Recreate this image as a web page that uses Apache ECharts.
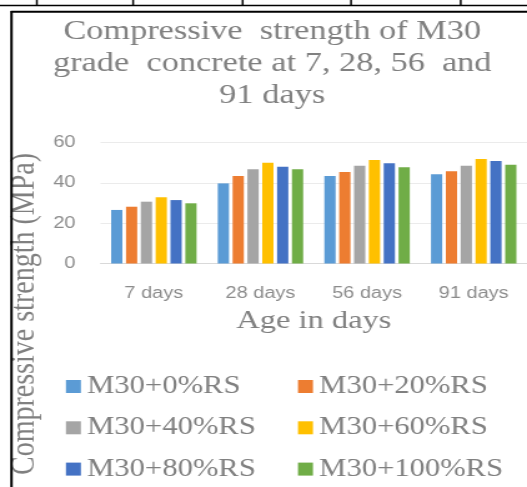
<!DOCTYPE html>
<html>
<head>
<meta charset="utf-8">
<script src="https://cdn.jsdelivr.net/npm/echarts@6/dist/echarts.min.js"></script>
<style>
  html, body { margin: 0; padding: 0; background: #fff; overflow: hidden; }
  /* the source picture is stretched sideways, so draw narrow and stretch */
  #chart { width: 422px; height: 487px; transform: scaleX(1.2488); transform-origin: 0 0; }
</style>
</head>
<body>
<div id="chart"></div>
<script>
  const ages = ['7 days', '28 days', '56 days', '91 days'];
  const mixes = ['M30+0%RS', 'M30+20%RS', 'M30+40%RS', 'M30+60%RS', 'M30+80%RS', 'M30+100%RS'];
  const rs0 = [26.6, 39.8, 43.5, 44.3];
  const rs20 = [28.2, 43.5, 45.5, 45.8];
  const rs40 = [30.7, 46.8, 48.6, 48.6];
  const rs60 = [32.9, 50.1, 51.4, 51.9];
  const rs80 = [31.5, 48.1, 49.8, 50.9];
  const rs100 = [29.9, 46.8, 47.8, 49.1];
  const yTicks = [0, 20, 40, 60];
  const titleLines = ['Compressive  strength of M30', 'grade  concrete at 7, 28, 56  and', '91 days'];

  const colors = ['#5b9bd5', '#ed7d31', '#a5a5a5', '#ffc000', '#4472c4', '#70ad47'];
  const values = [rs0, rs20, rs40, rs60, rs80, rs100];
  const grey = '#808080';
  const serif = '"Liberation Serif", "DejaVu Serif", serif';

  const chart = echarts.init(document.getElementById('chart'));

  // title, rotated axis name and the page frame
  const graphics = titleLines.map((t, i) => ({
    type: 'text',
    x: 218,
    y: 32 + i * 31.7,
    style: {
      text: t, fill: grey, font: '27.5px ' + serif,
      align: 'center', verticalAlign: 'middle',
      textAlign: 'center', textVerticalAlign: 'middle'
    }
  }));
  graphics.push({
    type: 'text',
    x: 20,
    y: 314,
    rotation: Math.PI / 2,
    style: {
      text: 'Compressive strength (MPa)', fill: grey, font: '28px ' + serif,
      align: 'center', verticalAlign: 'middle',
      textAlign: 'center', textVerticalAlign: 'middle'
    }
  });
  // table row cut off at the top
  graphics.push({ type: 'line', shape: { x1: 0, y1: 5.5, x2: 422, y2: 5.5 }, style: { stroke: '#000', lineWidth: 1.5 } });
  [29.5, 106.6, 194.3, 281.1, 368.9].forEach(x => {
    graphics.push({ type: 'line', shape: { x1: x, y1: 0, x2: x, y2: 5.5 }, style: { stroke: '#000', lineWidth: 1.5 } });
  });
  // frame
  graphics.push({ type: 'line', shape: { x1: 8.6, y1: 11.8, x2: 422, y2: 11.8 }, style: { stroke: '#000', lineWidth: 2 } });
  graphics.push({ type: 'line', shape: { x1: 9.2, y1: 11, x2: 9.2, y2: 487 }, style: { stroke: '#000', lineWidth: 2 } });

  const legendBase = {
    orient: 'vertical',
    top: 372.5,
    height: 140,
    padding: 0,
    icon: 'rect',
    itemWidth: 12,
    itemHeight: 13,
    itemGap: 13.3,
    textStyle: { color: grey, fontFamily: serif, fontSize: 24.5, lineHeight: 28 }
  };

  chart.setOption({
    animation: false,
    graphic: graphics,
    legend: [
      Object.assign({}, legendBase, { left: 52.8, data: [mixes[0], mixes[2], mixes[4]] }),
      Object.assign({}, legendBase, { left: 238.6, data: [mixes[1], mixes[3], mixes[5]] })
    ],
    grid: { left: 80.5, top: 142.7, width: 354, height: 120.8 },
    xAxis: {
      type: 'category',
      data: ages,
      name: 'Age in days',
      nameLocation: 'middle',
      nameGap: 45,
      nameTextStyle: { color: grey, fontFamily: serif, fontSize: 26 },
      axisLine: { lineStyle: { color: '#d9d9d9', width: 1 } },
      axisTick: { show: false },
      axisLabel: { color: '#8c8c8c', fontFamily: '"Liberation Sans", sans-serif', fontSize: 16, margin: 22 }
    },
    yAxis: {
      type: 'value',
      min: yTicks[0],
      max: yTicks[yTicks.length - 1],
      interval: 20,
      axisLine: { show: false },
      axisTick: { show: false },
      splitLine: { lineStyle: { color: '#ebebeb', width: 1 } },
      axisLabel: { color: '#8c8c8c', fontFamily: '"Liberation Sans", sans-serif', fontSize: 16, margin: 20 }
    },
    series: mixes.map((m, i) => ({
      name: m,
      type: 'bar',
      data: values[i],
      barWidth: 9,
      barGap: '32%',
      itemStyle: { color: colors[i] }
    }))
  });
</script>
</body>
</html>
